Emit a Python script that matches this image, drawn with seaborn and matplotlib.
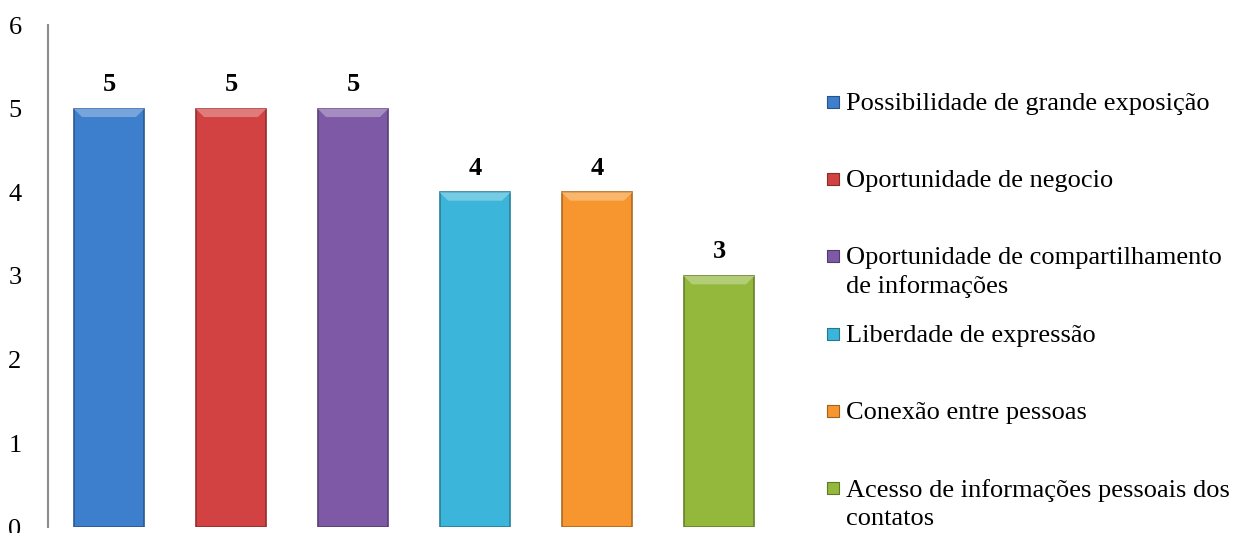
import matplotlib
matplotlib.use("Agg")
import matplotlib.pyplot as plt
import matplotlib.colors as mcolors
from matplotlib.patches import Polygon
import seaborn as sns
import pandas as pd

# Benefits of social networks and how many respondents cited each
categories = [
    "Possibilidade de grande exposição",
    "Oportunidade de negocio",
    "Oportunidade de compartilhamento\nde informações",
    "Liberdade de expressão",
    "Conexão entre pessoas",
    "Acesso de informações pessoais dos\ncontatos",
]
values = [5, 5, 5, 4, 4, 3]
colors = ["#3d7fcc", "#d24242", "#7e5aa6", "#3bb6da", "#f7962f", "#93b83c"]
yticks = [0, 1, 2, 3, 4, 5, 6]

df = pd.DataFrame({"categoria": categories, "valor": values})

sns.set_theme(style="white")
plt.rcParams["font.family"] = ["Liberation Serif", "DejaVu Serif"]
plt.rcParams["text.color"] = "black"
plt.rcParams["ytick.color"] = "black"

FS = 19
W, H = 1248, 533
fig = plt.figure(figsize=(W / 100, H / 100), dpi=100)
ax = fig.add_axes([48 / W, 6 / H, 732 / W, 502 / H])

sns.barplot(data=df, x="categoria", y="valor", hue="categoria",
            palette=colors, width=0.58, legend=False, ax=ax,
            saturation=1)


def shade(c, f):
    r, g, b = mcolors.to_rgb(c)
    if f >= 0:
        return (r + (1 - r) * f, g + (1 - g) * f, b + (1 - b) * f)
    return (r * (1 + f), g * (1 + f), b * (1 + f))


# Bevelled look: darker rim, lighter top facet
for patch, c in zip(ax.patches, colors):
    patch.set_edgecolor(shade(c, -0.3))
    patch.set_linewidth(1.2)
    x0 = patch.get_x()
    w = patch.get_width()
    h = patch.get_height()
    dx = w * 0.12
    dy = 0.1
    top = Polygon([(x0, h), (x0 + w, h), (x0 + w - dx, h - dy), (x0 + dx, h - dy)],
                  closed=True, facecolor=shade(c, 0.3), edgecolor="none", zorder=3)
    ax.add_patch(top)

for cont in ax.containers:
    ax.bar_label(cont, fmt="%d", padding=9, fontsize=FS, fontweight="bold",
                 color="black")

ax.set_ylim(0, 6)
ax.set_yticks(yticks)
ax.set_yticklabels([str(t) for t in yticks], fontsize=FS)
ax.set_xticks([])
ax.set_xlabel("")
ax.set_ylabel("")
ax.tick_params(axis="y", length=0, pad=19, labelcolor="black")
for s in ["top", "right", "bottom"]:
    ax.spines[s].set_visible(False)
ax.spines["left"].set_color("#8c8c8c")
ax.spines["left"].set_linewidth(1.5)
ax.set_xlim(-0.5, len(categories) - 0.5)

# Legend drawn on an overlay in pixel coordinates
lax = fig.add_axes([0, 0, 1, 1])
lax.set_xlim(0, W)
lax.set_ylim(H, 0)
lax.axis("off")
row_y = [102, 179, 256, 334, 411, 488]
for lbl, c, y in zip(categories, colors, row_y):
    lax.scatter([833], [y], marker="s", s=80, color=c,
                edgecolor=shade(c, -0.35), linewidth=0.8)
    lax.text(846, y - 9, lbl, fontsize=FS, va="top", ha="left",
             linespacing=1.35, color="black")

fig.savefig("out.png", dpi=100)
